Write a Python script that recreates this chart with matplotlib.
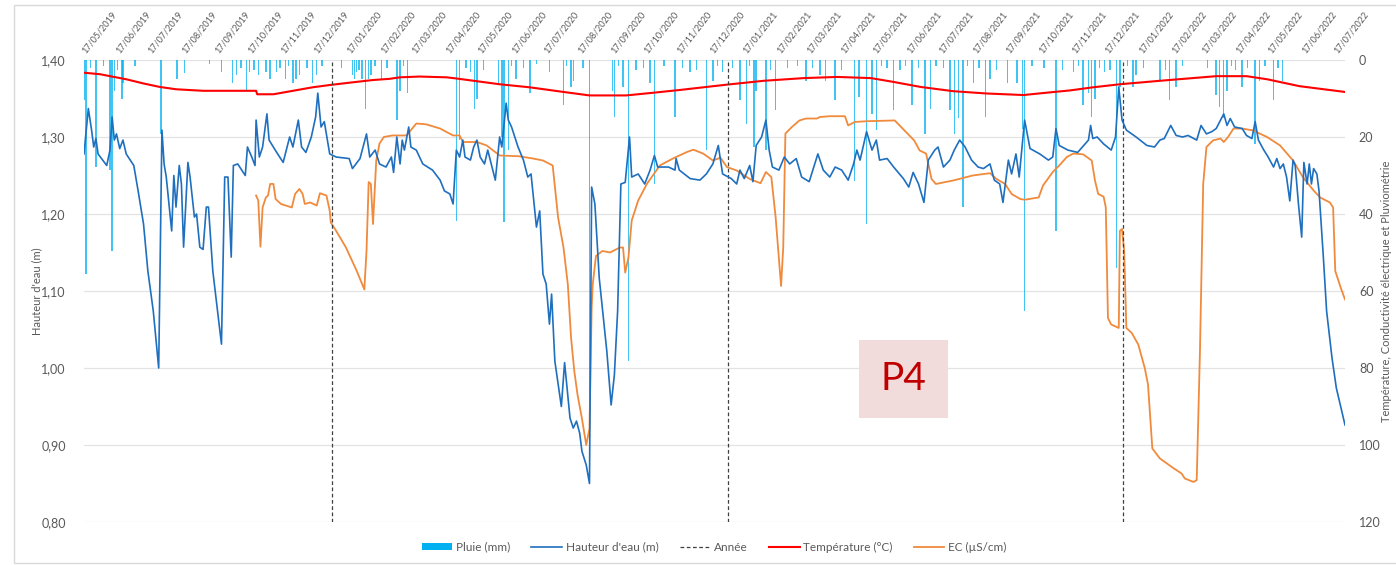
#!/usr/bin/env python3
import matplotlib
matplotlib.use("Agg")
import matplotlib.pyplot as plt
import matplotlib.dates as mdates
from matplotlib.patches import Rectangle, Patch
from matplotlib.lines import Line2D
from matplotlib.ticker import FuncFormatter, MultipleLocator
import pandas as pd

# ---- data ----
hauteur_dates = [
    "2019-05-17", "2019-05-21", "2019-05-24", "2019-05-26", "2019-05-28", "2019-05-30", "2019-06-07",
    "2019-06-10", "2019-06-12", "2019-06-14", "2019-06-16", "2019-06-19", "2019-06-22", "2019-06-25",
    "2019-07-02", "2019-07-06", "2019-07-11", "2019-07-15", "2019-07-20", "2019-07-25", "2019-07-28",
    "2019-07-30", "2019-08-01", "2019-08-06", "2019-08-08", "2019-08-10", "2019-08-13", "2019-08-15",
    "2019-08-17", "2019-08-21", "2019-08-23", "2019-08-27", "2019-08-29", "2019-09-01", "2019-09-04",
    "2019-09-07", "2019-09-09", "2019-09-13", "2019-09-21", "2019-09-24", "2019-09-27", "2019-09-30",
    "2019-10-02", "2019-10-06", "2019-10-13", "2019-10-15", "2019-10-19", "2019-10-22", "2019-10-23",
    "2019-10-26", "2019-10-29", "2019-11-02", "2019-11-04", "2019-11-11", "2019-11-17", "2019-11-23",
    "2019-11-26", "2019-12-01", "2019-12-04", "2019-12-08", "2019-12-13", "2019-12-17", "2019-12-19",
    "2019-12-22", "2019-12-25", "2019-12-30", "2020-01-05", "2020-01-17", "2020-01-20", "2020-01-27",
    "2020-02-02", "2020-02-05", "2020-02-10", "2020-02-14", "2020-02-20", "2020-02-25", "2020-02-27",
    "2020-03-01", "2020-03-04", "2020-03-06", "2020-03-08", "2020-03-12", "2020-03-14", "2020-03-19",
    "2020-03-25", "2020-04-03", "2020-04-10", "2020-04-14", "2020-04-19", "2020-04-22", "2020-04-25",
    "2020-04-28", "2020-05-01", "2020-05-03", "2020-05-08", "2020-05-11", "2020-05-14", "2020-05-17",
    "2020-05-21", "2020-05-24", "2020-05-31", "2020-06-04", "2020-06-06", "2020-06-10", "2020-06-12",
    "2020-06-15", "2020-06-21", "2020-06-26", "2020-06-30", "2020-07-03", "2020-07-08", "2020-07-11",
    "2020-07-14", "2020-07-17", "2020-07-20", "2020-07-22", "2020-07-25", "2020-07-31", "2020-08-03",
    "2020-08-08", "2020-08-11", "2020-08-14", "2020-08-17", "2020-08-19", "2020-08-23", "2020-08-26",
    "2020-08-28", "2020-08-31", "2020-09-04", "2020-09-11", "2020-09-15", "2020-09-18", "2020-09-21",
    "2020-09-24", "2020-09-28", "2020-10-02", "2020-10-04", "2020-10-10", "2020-10-16", "2020-10-21",
    "2020-10-25", "2020-10-28", "2020-11-07", "2020-11-13", "2020-11-14", "2020-11-17", "2020-11-27",
    "2020-12-06", "2020-12-12", "2020-12-18", "2020-12-23", "2020-12-27", "2021-01-04", "2021-01-09",
    "2021-01-12", "2021-01-16", "2021-01-21", "2021-01-24", "2021-01-27", "2021-02-01", "2021-02-05",
    "2021-02-08", "2021-02-11", "2021-02-17", "2021-02-22", "2021-02-27", "2021-03-05", "2021-03-10",
    "2021-03-17", "2021-03-25", "2021-03-30", "2021-04-05", "2021-04-10", "2021-04-16", "2021-04-22",
    "2021-04-27", "2021-04-30", "2021-05-03", "2021-05-09", "2021-05-14", "2021-05-18", "2021-05-21",
    "2021-05-28", "2021-06-03", "2021-06-12", "2021-06-17", "2021-06-21", "2021-06-26", "2021-07-01",
    "2021-07-05", "2021-07-11", "2021-07-14", "2021-07-19", "2021-07-25", "2021-07-29", "2021-08-03",
    "2021-08-08", "2021-08-14", "2021-08-20", "2021-08-25", "2021-08-31", "2021-09-04", "2021-09-09",
    "2021-09-12", "2021-09-17", "2021-09-20", "2021-09-24", "2021-09-27", "2021-10-02", "2021-10-07",
    "2021-10-16", "2021-10-24", "2021-10-28", "2021-10-31", "2021-11-03", "2021-11-11", "2021-11-20",
    "2021-11-30", "2021-12-02", "2021-12-04", "2021-12-08", "2021-12-14", "2021-12-21", "2021-12-25",
    "2021-12-28", "2021-12-31", "2022-01-04", "2022-01-13", "2022-01-23", "2022-01-30", "2022-02-04",
    "2022-02-08", "2022-02-14", "2022-02-19", "2022-02-25", "2022-03-02", "2022-03-10", "2022-03-14",
    "2022-03-19", "2022-03-24", "2022-03-28", "2022-04-04", "2022-04-07", "2022-04-10", "2022-04-14",
    "2022-04-21", "2022-04-25", "2022-04-30", "2022-05-03", "2022-05-06", "2022-05-11", "2022-05-15",
    "2022-05-20", "2022-05-23", "2022-05-26", "2022-05-29", "2022-06-01", "2022-06-04", "2022-06-07",
    "2022-06-09", "2022-06-12", "2022-06-15", "2022-06-17", "2022-06-20", "2022-06-22", "2022-06-24",
    "2022-06-26", "2022-06-29", "2022-07-01", "2022-07-05", "2022-07-08", "2022-07-13", "2022-07-17",
    "2022-07-25",
]
hauteur_m = [
    1.278, 1.337, 1.309, 1.287, 1.298, 1.278, 1.263,
    1.283, 1.326, 1.296, 1.304, 1.285, 1.296, 1.278,
    1.263, 1.230, 1.187, 1.126, 1.074, 1.000, 1.309,
    1.265, 1.248, 1.178, 1.250, 1.209, 1.263, 1.239,
    1.157, 1.267, 1.248, 1.196, 1.200, 1.157, 1.154,
    1.209, 1.209, 1.126, 1.031, 1.248, 1.248, 1.144,
    1.263, 1.265, 1.250, 1.287, 1.274, 1.263, 1.322,
    1.274, 1.287, 1.330, 1.296, 1.280, 1.267, 1.300,
    1.287, 1.322, 1.287, 1.280, 1.300, 1.326, 1.357,
    1.313, 1.320, 1.278, 1.274, 1.272, 1.259, 1.272,
    1.304, 1.274, 1.283, 1.265, 1.261, 1.274, 1.254,
    1.300, 1.265, 1.296, 1.283, 1.313, 1.287, 1.283,
    1.265, 1.257, 1.244, 1.230, 1.226, 1.213, 1.283,
    1.274, 1.296, 1.274, 1.270, 1.287, 1.296, 1.274,
    1.265, 1.283, 1.244, 1.300, 1.287, 1.344, 1.322,
    1.313, 1.287, 1.270, 1.248, 1.252, 1.183, 1.204,
    1.122, 1.109, 1.057, 1.096, 1.009, 0.950, 1.007,
    0.935, 0.922, 0.931, 0.915, 0.892, 0.874, 0.850,
    1.235, 1.213, 1.117, 1.022, 0.952, 0.991, 1.074,
    1.239, 1.241, 1.300, 1.248, 1.252, 1.239, 1.257,
    1.276, 1.261, 1.261, 1.257, 1.272, 1.257, 1.246,
    1.244, 1.252, 1.265, 1.289, 1.252, 1.246, 1.239,
    1.257, 1.246, 1.263, 1.242, 1.289, 1.300, 1.322,
    1.283, 1.261, 1.257, 1.274, 1.265, 1.272, 1.248,
    1.242, 1.278, 1.257, 1.248, 1.261, 1.257, 1.244,
    1.265, 1.283, 1.270, 1.307, 1.283, 1.296, 1.270,
    1.272, 1.261, 1.246, 1.235, 1.254, 1.239, 1.215,
    1.270, 1.283, 1.287, 1.261, 1.270, 1.283, 1.296,
    1.287, 1.270, 1.261, 1.259, 1.265, 1.244, 1.239,
    1.215, 1.270, 1.252, 1.278, 1.248, 1.322, 1.285,
    1.278, 1.270, 1.274, 1.311, 1.289, 1.283, 1.280,
    1.296, 1.315, 1.298, 1.300, 1.291, 1.283, 1.300,
    1.365, 1.322, 1.309, 1.300, 1.289, 1.287, 1.296,
    1.298, 1.315, 1.302, 1.300, 1.302, 1.296, 1.315,
    1.304, 1.307, 1.311, 1.330, 1.315, 1.324, 1.313,
    1.311, 1.302, 1.298, 1.320, 1.296, 1.283, 1.274,
    1.261, 1.272, 1.259, 1.265, 1.248, 1.217, 1.270,
    1.263, 1.213, 1.170, 1.267, 1.239, 1.265, 1.239,
    1.259, 1.252, 1.230, 1.144, 1.074, 1.013, 0.974,
    0.926,
]

ec_dates = [
    "2019-10-23", "2019-10-25", "2019-10-27", "2019-10-29", "2019-11-01", "2019-11-03", "2019-11-05",
    "2019-11-08", "2019-11-10", "2019-11-15", "2019-11-25", "2019-11-28", "2019-12-02", "2019-12-05",
    "2019-12-07", "2019-12-12", "2019-12-18", "2019-12-21", "2019-12-27", "2019-12-30", "2019-12-31",
    "2020-01-05", "2020-01-14", "2020-01-24", "2020-01-31", "2020-02-02", "2020-02-04", "2020-02-06",
    "2020-02-08", "2020-02-11", "2020-02-14", "2020-02-18", "2020-02-26", "2020-03-10", "2020-03-19",
    "2020-03-28", "2020-04-10", "2020-04-22", "2020-04-28", "2020-05-01", "2020-05-14", "2020-05-23",
    "2020-06-04", "2020-06-22", "2020-07-05", "2020-07-14", "2020-07-23", "2020-07-28", "2020-08-02",
    "2020-08-06", "2020-08-09", "2020-08-12", "2020-08-15", "2020-08-19", "2020-08-23", "2020-08-26",
    "2020-08-28", "2020-08-29", "2020-09-01", "2020-09-07", "2020-09-14", "2020-09-23", "2020-09-26",
    "2020-09-28", "2020-10-01", "2020-10-04", "2020-10-10", "2020-10-18", "2020-10-30", "2020-11-11",
    "2020-11-24", "2020-11-30", "2020-12-09", "2020-12-18", "2020-12-25", "2020-12-31", "2021-01-09",
    "2021-01-21", "2021-01-31", "2021-02-05", "2021-02-10", "2021-02-14", "2021-02-19", "2021-02-21",
    "2021-02-23", "2021-03-01", "2021-03-08", "2021-03-14", "2021-03-24", "2021-03-27", "2021-04-05",
    "2021-04-19", "2021-04-22", "2021-04-28", "2021-05-09", "2021-06-04", "2021-06-13", "2021-06-22",
    "2021-06-27", "2021-07-03", "2021-07-08", "2021-07-12", "2021-07-28", "2021-08-15", "2021-08-31",
    "2021-09-06", "2021-09-14", "2021-09-20", "2021-09-28", "2021-10-02", "2021-10-15", "2021-10-19",
    "2021-10-28", "2021-11-03", "2021-11-10", "2021-11-16", "2021-11-25", "2021-12-03", "2021-12-06",
    "2021-12-09", "2021-12-14", "2021-12-16", "2021-12-18", "2021-12-21", "2021-12-28", "2021-12-29",
    "2021-12-31", "2022-01-02", "2022-01-04", "2022-01-09", "2022-01-15", "2022-01-21", "2022-01-24",
    "2022-01-28", "2022-02-04", "2022-02-17", "2022-02-24", "2022-02-27", "2022-03-07", "2022-03-10",
    "2022-03-13", "2022-03-16", "2022-03-19", "2022-03-25", "2022-04-01", "2022-04-04", "2022-04-08",
    "2022-04-13", "2022-04-21", "2022-05-01", "2022-05-14", "2022-05-26", "2022-06-07", "2022-06-16",
    "2022-06-26", "2022-07-02", "2022-07-11", "2022-07-14", "2022-07-16", "2022-07-18", "2022-07-21",
    "2022-07-25",
]
ec_uscm = [
    35.2, 36.5, 48.5, 38.3, 35.7, 35.2, 32.2,
    32.2, 36.1, 37.4, 38.3, 34.8, 33.5, 34.8,
    37.4, 37.0, 37.8, 34.6, 35.2, 39.1, 42.2,
    44.4, 48.7, 54.8, 59.6, 49.6, 31.7, 32.2,
    42.6, 26.1, 21.7, 20.0, 19.6, 19.6, 16.5,
    16.7, 17.8, 19.6, 19.6, 21.3, 21.3, 22.2,
    24.8, 25.0, 25.6, 26.1, 27.4, 40.9, 48.7,
    58.3, 72.2, 80.9, 87.0, 93.1, 100.0, 95.7,
    64.4, 58.3, 50.9, 49.6, 50.0, 48.7, 48.7,
    55.2, 51.3, 41.7, 36.5, 32.2, 27.4, 25.6,
    23.9, 23.3, 24.3, 26.1, 25.4, 27.8, 28.7,
    30.9, 32.0, 29.1, 30.4, 40.9, 58.7, 48.7,
    19.1, 17.4, 15.7, 15.2, 15.2, 14.8, 14.6,
    14.6, 17.0, 16.1, 15.9, 15.7, 18.3, 20.9,
    23.5, 24.3, 30.9, 32.2, 31.3, 30.0, 29.4,
    30.9, 32.2, 34.8, 36.1, 36.3, 35.7, 32.6,
    29.1, 27.4, 25.2, 24.3, 24.5, 26.1, 31.3,
    34.8, 35.5, 38.3, 67.0, 68.7, 69.6, 44.4,
    43.9, 49.6, 69.6, 70.9, 73.9, 80.0, 84.3,
    100.9, 103.5, 106.1, 107.4, 108.7, 109.6, 109.1,
    75.7, 32.2, 22.6, 20.9, 20.4, 21.3, 20.0,
    17.8, 17.8, 18.3, 20.0, 22.2, 26.1, 30.4,
    33.9, 35.7, 37.0, 38.3, 54.8, 56.5, 59.1,
    62.2,
]

temp_dates = [
    "2019-05-17", "2019-06-01", "2019-06-10", "2019-06-25", "2019-07-11", "2019-07-26", "2019-08-10",
    "2019-09-04", "2019-09-26", "2019-10-23", "2019-10-24", "2019-11-08", "2019-11-26", "2019-12-14",
    "2019-12-30", "2020-01-17", "2020-02-08", "2020-02-23", "2020-03-04", "2020-03-22", "2020-04-16",
    "2020-04-25", "2020-05-11", "2020-06-04", "2020-07-02", "2020-08-02", "2020-08-26", "2020-09-29",
    "2020-10-24", "2020-11-17", "2020-12-12", "2020-12-31", "2021-02-03", "2021-03-12", "2021-04-12",
    "2021-05-13", "2021-06-03", "2021-06-28", "2021-07-28", "2021-08-28", "2021-10-01", "2021-10-22",
    "2021-11-13", "2021-12-04", "2021-12-29", "2022-02-04", "2022-03-28", "2022-04-25", "2022-05-14",
    "2022-06-13", "2022-07-25",
]
temp_c = [
    3.3, 3.7, 4.2, 5.0, 6.1, 7.0, 7.6,
    8.0, 8.0, 8.0, 8.9, 8.9, 8.0, 7.1,
    6.5, 5.9, 5.2, 4.9, 4.5, 4.3, 4.5,
    4.8, 5.4, 6.3, 7.1, 8.3, 9.2, 9.2,
    8.5, 7.8, 7.0, 6.4, 5.4, 4.7, 4.4,
    4.7, 5.7, 7.0, 8.1, 8.7, 9.1, 8.5,
    7.9, 7.1, 6.3, 5.4, 4.2, 4.2, 5.0,
    6.8, 8.3,
]

pluie_dates = [
    "2019-05-17", "2019-05-19", "2019-05-28", "2019-06-10", "2019-06-12", "2019-06-14", "2019-06-21",
    "2019-06-22", "2019-07-27", "2019-08-11", "2019-08-18", "2019-09-21", "2019-10-01", "2019-10-05",
    "2019-10-14", "2019-10-17", "2019-10-25", "2019-11-01", "2019-11-05", "2019-11-11", "2019-11-19",
    "2019-11-26", "2019-11-29", "2019-12-02", "2019-12-14", "2019-12-18", "2020-01-20", "2020-01-22",
    "2020-01-24", "2020-01-29", "2020-02-01", "2020-02-04", "2020-02-06", "2020-02-16", "2020-03-01",
    "2020-03-04", "2020-03-11", "2020-04-25", "2020-04-28", "2020-05-08", "2020-05-12", "2020-05-14",
    "2020-06-03", "2020-06-06", "2020-06-08", "2020-06-12", "2020-06-19", "2020-07-02", "2020-07-20",
    "2020-08-02", "2020-08-09", "2020-08-11", "2020-08-26", "2020-09-16", "2020-09-18", "2020-09-26",
    "2020-10-01", "2020-10-21", "2020-10-25", "2020-11-13", "2020-11-27", "2020-12-12", "2020-12-18",
    "2020-12-27", "2021-01-12", "2021-01-18", "2021-01-25", "2021-01-27", "2021-02-05", "2021-02-14",
    "2021-03-14", "2021-03-27", "2021-04-01", "2021-04-10", "2021-04-28", "2021-05-02", "2021-05-09",
    "2021-05-14", "2021-05-18", "2021-06-03", "2021-06-20", "2021-07-02", "2021-07-07", "2021-07-25",
    "2021-07-29", "2021-08-02", "2021-08-06", "2021-08-16", "2021-08-27", "2021-08-31", "2021-09-16",
    "2021-09-25", "2021-09-30", "2021-10-02", "2021-10-31", "2021-11-16", "2021-11-25", "2021-11-30",
    "2021-12-03", "2021-12-06", "2021-12-15", "2021-12-26", "2021-12-29", "2022-01-10", "2022-01-13",
    "2022-02-04", "2022-02-13", "2022-02-19", "2022-03-28", "2022-03-31", "2022-04-04", "2022-04-07",
    "2022-04-21", "2022-05-03", "2022-05-07", "2022-05-20", "2022-05-28",
    # small showers forming the comb along the top
    "2019-05-23", "2019-06-04", "2019-06-17", "2019-07-03", "2019-09-10", "2019-10-09", "2019-10-21",
    "2019-11-14", "2019-11-22", "2019-12-09", "2019-12-23", "2020-01-10", "2020-01-26", "2020-02-10",
    "2020-02-21", "2020-03-07", "2020-05-04", "2020-05-20", "2020-06-15", "2020-06-26", "2020-07-08",
    "2020-08-05", "2020-08-20", "2020-09-22", "2020-10-08", "2020-10-15", "2020-11-03", "2020-11-20",
    "2020-12-03", "2020-12-22", "2021-01-05", "2021-01-21", "2021-02-09", "2021-02-25", "2021-03-06",
    "2021-03-20", "2021-04-16", "2021-05-23", "2021-05-28", "2021-06-09", "2021-06-14", "2021-06-26",
    "2021-07-12", "2021-07-19", "2021-08-10", "2021-08-21", "2021-09-06", "2021-10-09", "2021-10-20",
    "2021-11-06", "2021-11-21", "2021-12-10", "2021-12-20", "2022-01-05", "2022-01-20", "2022-02-09",
    "2022-02-25", "2022-03-20", "2022-04-11", "2022-04-15", "2022-04-26", "2022-05-12", "2022-05-24",
]
pluie_mm = [
    10.4, 55.6, 27.8, 28.7, 49.6, 8.0, 10.0,
    6.0, 19.1, 5.0, 3.5, 3.0, 6.1, 4.0,
    7.8, 3.0, 4.0, 3.0, 5.0, 3.0, 5.0,
    6.0, 5.0, 4.0, 6.0, 4.0, 4.0, 5.0,
    3.0, 5.0, 12.6, 5.0, 4.0, 5.0, 15.7,
    8.0, 8.5, 41.7, 20.9, 3.0, 12.6, 10.0,
    6.0, 20.0, 42.2, 23.5, 5.0, 8.7, 3.0,
    11.7, 7.0, 5.5, 107.0, 8.0, 14.8, 7.0,
    78.3, 6.0, 32.1, 14.8, 3.0, 23.5, 5.5,
    3.0, 10.4, 16.5, 22.6, 8.0, 23.5, 13.0,
    5.5, 4.0, 5.5, 10.4, 31.3, 9.5, 42.6,
    14.0, 18.3, 13.0, 11.7, 19.1, 12.6, 13.0,
    19.1, 15.0, 38.3, 6.0, 14.8, 5.0, 6.0,
    6.0, 18.0, 65.2, 44.4, 3.0, 11.7, 8.5,
    14.8, 10.0, 3.0, 53.9, 7.0, 7.0, 4.0,
    5.5, 10.4, 7.0, 9.0, 12.2, 15.0, 8.0,
    7.0, 21.7, 5.5, 10.4, 5.5,
    2.0, 1.5, 2.5, 1.5, 1.0, 2.0, 2.5,
    2.0, 1.5, 2.0, 1.5, 2.0, 2.5, 1.5,
    2.0, 1.5, 2.0, 2.5, 1.5, 2.0, 1.0,
    1.5, 2.0, 1.5, 2.5, 2.0, 1.5, 2.0,
    2.5, 1.5, 2.0, 1.5, 2.5, 2.0, 1.5,
    2.0, 2.5, 1.5, 2.0, 2.5, 1.5, 2.0,
    1.5, 2.0, 1.5, 2.0, 2.5, 1.5, 2.0,
    2.5, 1.5, 2.0, 2.5, 1.5, 2.0, 2.5,
    1.5, 2.0, 1.5, 2.5, 2.0, 1.5, 2.0,
]

annees = ["2020-01-01", "2021-01-01", "2022-01-01"]

GREY = '#595959'
BLUE = '#1f6fbf'
ORANGE = '#f08a3c'
RED = '#ff0000'
RAIN = '#00b0f0'

plt.rcParams['font.family'] = ['Lato', 'DejaVu Sans']

W, H = 1396, 565
fig = plt.figure(figsize=(W / 100, H / 100), dpi=100)
ax = fig.add_axes([84 / W, 1 - 522 / H, (1345 - 84) / W, (522 - 60) / H])
ax2 = ax.twinx()
# water height drawn above everything on the right axis
ax.set_zorder(ax2.get_zorder() + 1)
ax.patch.set_visible(False)

# right axis: rain, temperature, EC (inverted)
ax2.bar(pd.to_datetime(pluie_dates), pluie_mm, width=1.3, color=RAIN, alpha=0.75,
        linewidth=0, zorder=2)
ax2.plot(pd.to_datetime(temp_dates), temp_c, color=RED, lw=1.5, zorder=3)
ax2.plot(pd.to_datetime(ec_dates), ec_uscm, color=ORANGE, lw=1.3, zorder=3)
ax2.set_ylim(120, 0)
ax2.yaxis.set_major_locator(MultipleLocator(20))
ax2.grid(axis='y', color='#e3e3e3', lw=0.9)
ax2.set_axisbelow(True)

# left axis: water height + year lines
ax.plot(pd.to_datetime(hauteur_dates), hauteur_m, color=BLUE, lw=1.2, zorder=4)
for d in annees:
    ax.axvline(pd.Timestamp(d), color='#404040', lw=0.9, ls=(0, (3, 2)), zorder=3)
ax.set_ylim(0.80, 1.40)
ax.yaxis.set_major_locator(MultipleLocator(0.1))
ax.yaxis.set_major_formatter(FuncFormatter(lambda v, p: f"{v:.2f}".replace('.', ',')))
ax.set_xlim(pd.Timestamp("2019-05-17"), pd.Timestamp("2022-07-25"))

# monthly date labels on top
ax.xaxis.tick_top()
ax.xaxis.set_major_locator(mdates.MonthLocator(bymonthday=17))
ax.xaxis.set_major_formatter(mdates.DateFormatter('%d/%m/%Y'))
ax.tick_params(axis='x', length=0, pad=6, labelsize=6.5, labelcolor=GREY)
for lbl in ax.get_xticklabels():
    lbl.set_rotation(52)
    lbl.set_ha('left')
    lbl.set_va('center')
    lbl.set_rotation_mode('anchor')

ax.tick_params(axis='y', length=0, pad=13, labelsize=9, labelcolor=GREY)
ax2.tick_params(axis='y', length=0, pad=10, labelsize=9, labelcolor=GREY)
for a in (ax, ax2):
    for s in a.spines.values():
        s.set_visible(False)

fig.text(37 / W, 1 - 291 / H, "Hauteur d'eau (m)", rotation=90, ha='center', va='center',
         fontsize=8, color=GREY)
fig.text(1387 / W, 1 - 291 / H, "Température, Conductivité électrique et Pluviométrie",
         rotation=90, ha='center', va='center', fontsize=8, color=GREY)

# P4 label box
ax.add_patch(Rectangle((0.6146, 0.2258), 0.0703, 0.168, transform=ax.transAxes,
                       facecolor='#f2dcdb', edgecolor='none', zorder=6))
ax.text(0.6498, 0.3099, "P4", transform=ax.transAxes, ha='center', va='center',
        fontsize=28, color='#c00000', zorder=7)

handles = [
    Patch(facecolor=RAIN, edgecolor='none'),
    Line2D([], [], color=BLUE, lw=1.2),
    Line2D([], [], color='#404040', lw=0.9, ls=(0, (3, 2))),
    Line2D([], [], color=RED, lw=1.5),
    Line2D([], [], color=ORANGE, lw=1.3),
]
labels = ["Pluie (mm)", "Hauteur d'eau (m)", "Année", "Température (°C)", "EC (µS/cm)"]
leg = fig.legend(handles, labels, loc='center', bbox_to_anchor=(714 / W, 1 - 547 / H), ncol=5,
                 frameon=False, fontsize=8.5, handlelength=2.6, handleheight=0.6,
                 handletextpad=0.3, columnspacing=1.8)
for t in leg.get_texts():
    t.set_color(GREY)

# chart border
fig.add_artist(Rectangle((14 / W, 1 - 563 / H), 2, (563 - 5) / H, transform=fig.transFigure,
                         fill=False, edgecolor='#d9d9d9', lw=1))

fig.savefig("out.png", dpi=100)
